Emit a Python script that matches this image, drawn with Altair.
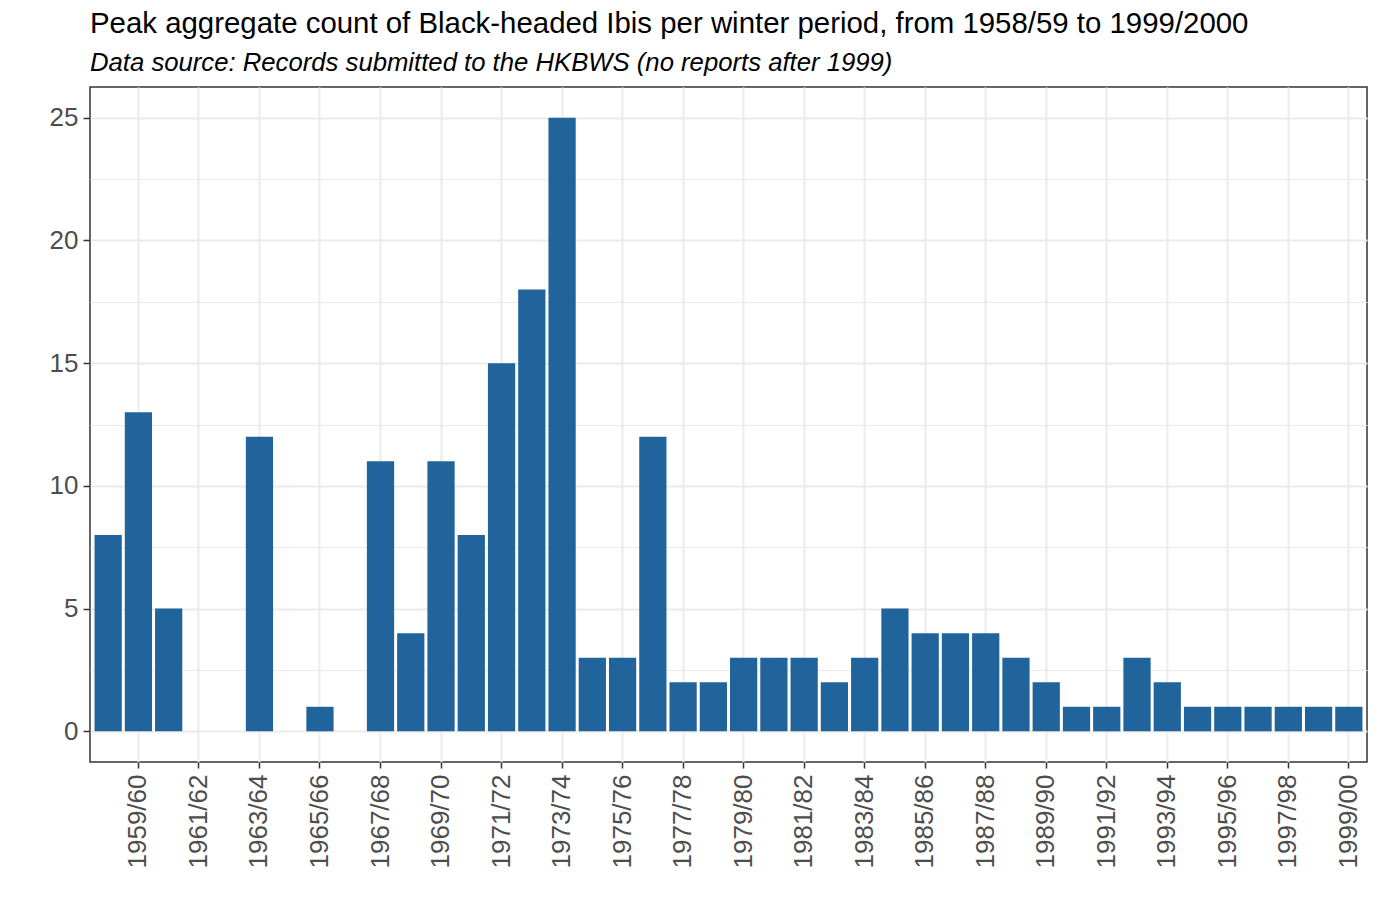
import altair as alt
import pandas as pd

periods = [
    "1958/59", "1959/60", "1960/61", "1961/62", "1962/63", "1963/64", "1964/65",
    "1965/66", "1966/67", "1967/68", "1968/69", "1969/70", "1970/71", "1971/72",
    "1972/73", "1973/74", "1974/75", "1975/76", "1976/77", "1977/78", "1978/79",
    "1979/80", "1980/81", "1981/82", "1982/83", "1983/84", "1984/85", "1985/86",
    "1986/87", "1987/88", "1988/89", "1989/90", "1990/91", "1991/92", "1992/93",
    "1993/94", "1994/95", "1995/96", "1996/97", "1997/98", "1998/99", "1999/00",
]
counts = [
    8, 13, 5, 0, 0, 12, 0,
    1, 0, 11, 4, 11, 8, 15,
    18, 25, 3, 3, 12, 2, 2,
    3, 3, 3, 2, 3, 5, 4,
    4, 4, 3, 2, 1, 1, 3,
    2, 1, 1, 1, 1, 1, 1,
]
tick_labels = periods[1::2]
y_ticks = [0, 2.5, 5, 7.5, 10, 12.5, 15, 17.5, 20, 22.5, 25]

df = pd.DataFrame({"period": periods, "count": counts})
df = df[df["count"] > 0]

FONT = "Liberation Sans"

bars = alt.Chart(df).mark_bar(color="#21639B").encode(
    x=alt.X(
        "period:N",
        sort=periods,
        scale=alt.Scale(domain=periods, paddingInner=0.1, paddingOuter=0.15),
        axis=alt.Axis(
            values=tick_labels,
            title=None,
            labelAngle=270,
            labelAlign="right",
            labelBaseline="middle",
            labelFont=FONT,
            labelFontSize=26,
            labelColor="#4D4D4D",
            labelPadding=6,
            tickSize=6,
            tickColor="#333333",
            tickWidth=1.5,
            bandPosition=0.5,
            domain=False,
            grid=True,
            gridColor="#EBEBEB",
            gridWidth=2,
        ),
    ),
    y=alt.Y(
        "count:Q",
        scale=alt.Scale(domain=[-1.25, 26.25], nice=False, zero=False),
        axis=alt.Axis(
            values=y_ticks,
            title=None,
            labelExpr="datum.value % 5 === 0 ? datum.label : ''",
            labelFont=FONT,
            labelFontSize=26,
            labelColor="#4D4D4D",
            labelPadding=5,
            tickSize=7,
            tickColor="#333333",
            tickWidth=1.5,
            tickOpacity={"condition": {"test": "datum.value % 5 === 0", "value": 1}, "value": 0},
            domain=False,
            grid=True,
            gridColor="#EBEBEB",
            gridWidth={"condition": {"test": "datum.value % 5 === 0", "value": 2}, "value": 1.2},
        ),
    ),
)

chart = bars.properties(
    width=1277,
    height=675,
    autosize=alt.AutoSizeParams(type="none"),
    padding={"left": 82, "top": 79, "right": 4, "bottom": 130},
    background="#FFFFFF",
    title=alt.TitleParams(
        text="Peak aggregate count of Black-headed Ibis per winter period, from 1958/59 to 1999/2000",
        subtitle="Data source: Records submitted to the HKBWS (no reports after 1999)",
        anchor="start",
        frame="group",
        font=FONT,
        fontSize=29.4,
        fontWeight="normal",
        color="#000000",
        subtitleFont=FONT,
        subtitleFontSize=25.7,
        subtitleFontStyle="italic",
        subtitleColor="#000000",
        subtitlePadding=12,
        offset=10,
    ),
).configure_view(
    stroke="#333333", strokeWidth=1.5
)

chart.save("out.html", embed_options={"renderer": "svg", "actions": False})
